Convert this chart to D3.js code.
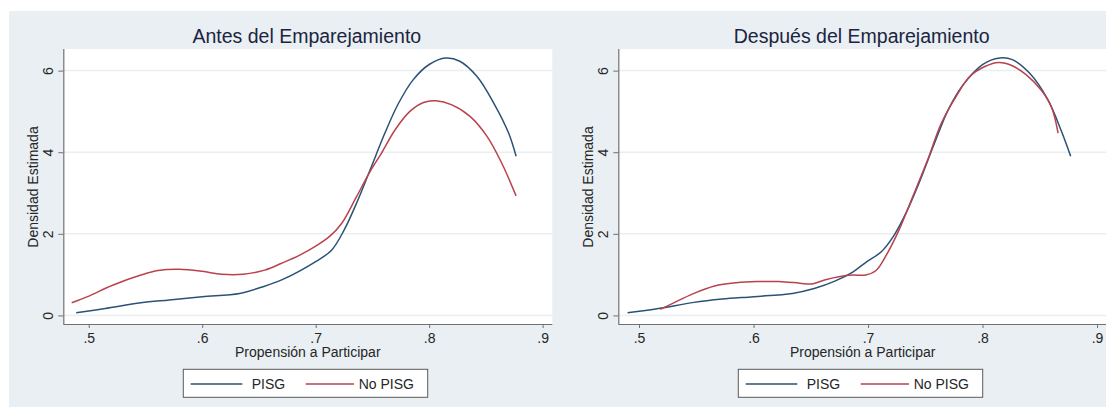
<!DOCTYPE html>
<html>
<head>
<meta charset="utf-8">
<script src="https://cdn.jsdelivr.net/npm/d3@7"></script>
<style>
  html, body { margin: 0; padding: 0; background: #ffffff; }
  svg { display: block; }
  text { font-family: "Liberation Sans", Arial, Helvetica, sans-serif; }
</style>
</head>
<body>
<svg id="chart" width="1106" height="407"></svg>
<script>
// ---- Data ----
const panelTitles = ["Antes del Emparejamiento", "Después del Emparejamiento"];
const xTicks = [0.5, 0.6, 0.7, 0.8, 0.9];
const xTickLabels = [".5", ".6", ".7", ".8", ".9"];
const yTicks = [0, 2, 4, 6];
const seriesNames = ["PISG", "No PISG"];
const xAxisTitle = "Propensión a Participar";
const yAxisTitle = "Densidad Estimada";

// Antes del Emparejamiento
const antesPISG = [
  [0.489, 0.065], [0.5146, 0.17], [0.546, 0.31], [0.571, 0.38], [0.600, 0.46],
  [0.633, 0.54], [0.652, 0.69], [0.670, 0.87], [0.700, 1.32], [0.714, 1.60],
  [0.725, 2.09], [0.736, 2.75], [0.748, 3.57], [0.761, 4.47], [0.773, 5.20],
  [0.786, 5.78], [0.800, 6.15], [0.8146, 6.31], [0.827, 6.23], [0.842, 5.86],
  [0.857, 5.20], [0.870, 4.47], [0.8766, 3.90]
];
const antesNoPISG = [
  [0.485, 0.31], [0.499, 0.46], [0.521, 0.74], [0.546, 0.99], [0.561, 1.10],
  [0.580, 1.13], [0.600, 1.08], [0.617, 1.01], [0.636, 1.01], [0.655, 1.11],
  [0.670, 1.28], [0.686, 1.48], [0.700, 1.70], [0.712, 1.93], [0.723, 2.26],
  [0.736, 2.91], [0.748, 3.53], [0.758, 3.98], [0.770, 4.55], [0.783, 5.00],
  [0.795, 5.22], [0.806, 5.26], [0.820, 5.16], [0.836, 4.88], [0.851, 4.39],
  [0.864, 3.73], [0.8766, 2.93]
];
// Después del Emparejamiento
const despuesPISG = [
  [0.490, 0.065], [0.517, 0.17], [0.548, 0.32], [0.5726, 0.40], [0.600, 0.46],
  [0.634, 0.54], [0.653, 0.66], [0.671, 0.84], [0.687, 1.07], [0.699, 1.32],
  [0.7116, 1.56], [0.722, 1.93], [0.733, 2.50], [0.7456, 3.32], [0.758, 4.22],
  [0.770, 5.04], [0.783, 5.65], [0.800, 6.15], [0.815, 6.31], [0.826, 6.27],
  [0.841, 5.94], [0.857, 5.29], [0.869, 4.51], [0.877, 3.90]
];
const despuesNoPISG = [
  [0.5185, 0.15], [0.529, 0.29], [0.548, 0.54], [0.566, 0.72], [0.585, 0.80],
  [0.6035, 0.83], [0.622, 0.83], [0.6405, 0.79], [0.651, 0.77], [0.662, 0.87],
  [0.6745, 0.95], [0.687, 0.99], [0.698, 0.99], [0.707, 1.10], [0.716, 1.48],
  [0.727, 2.09], [0.739, 2.91], [0.752, 3.81], [0.764, 4.71], [0.777, 5.37],
  [0.789, 5.86], [0.802, 6.10], [0.814, 6.20], [0.826, 6.12], [0.838, 5.90],
  [0.851, 5.53], [0.860, 5.12], [0.866, 4.47]
];

const panelSeries = [[antesPISG, antesNoPISG], [despuesPISG, despuesNoPISG]];
const xDomains = [[0.4776, 0.9085], [0.4819, 0.9087]];
const yDomain = [-0.21, 6.53];

// ---- Layout / style ----
const colors = ["#2b5276", "#b9424e"];
const bg = "#e9eff2";
const panels = [
  { left: 63.3, right: 552.3, offset: 0 },
  { left: 618.3, right: 1107, offset: 555 }
];
const plotTop = 49, plotBottom = 324;

const svg = d3.select("#chart");
svg.append("rect").attr("x", 9).attr("y", 11).attr("width", 1106 - 9).attr("height", 407 - 11).attr("fill", bg);

panels.forEach((p, i) => {
  const g = svg.append("g");
  const x = d3.scaleLinear().domain(xDomains[i]).range([p.left, p.right]);
  const y = d3.scaleLinear().domain(yDomain).range([plotBottom, plotTop]);

  // plot region
  g.append("rect").attr("x", p.left).attr("y", plotTop)
    .attr("width", p.right - p.left).attr("height", plotBottom - plotTop)
    .attr("fill", "#ffffff");

  // grid lines
  g.selectAll(".grid").data(yTicks).enter().append("line")
    .attr("x1", p.left).attr("x2", p.right)
    .attr("y1", d => y(d)).attr("y2", d => y(d))
    .attr("stroke", "#e9eef2").attr("stroke-width", 1.5);

  // curves
  const line = d3.line().x(d => x(d[0])).y(d => y(d[1])).curve(d3.curveCatmullRom.alpha(0.5));
  panelSeries[i].forEach((s, k) => {
    g.append("path").datum(s).attr("d", line)
      .attr("fill", "none").attr("stroke", colors[k]).attr("stroke-width", 1.5);
  });

  // x axis
  const xAxis = d3.axisBottom(x).tickValues(xTicks)
    .tickFormat((d, j) => xTickLabels[j]).tickSize(4).tickPadding(5);
  const xa = g.append("g").attr("transform", `translate(0,${plotBottom})`).call(xAxis);
  xa.select(".domain").attr("stroke", "#707070").attr("stroke-width", 1.2)
    .attr("d", `M${p.left},0.5H${p.right}`);
  xa.selectAll(".tick line").attr("stroke", "#707070");
  xa.selectAll(".tick text").attr("font-size", 14).attr("fill", "#262626")
    .attr("font-family", '"Liberation Sans", Arial, sans-serif');

  // y axis
  const yAxis = d3.axisLeft(y).tickValues(yTicks).tickSize(5).tickFormat(d3.format("d"));
  const ya = g.append("g").attr("transform", `translate(${p.left},0)`).call(yAxis);
  ya.select(".domain").attr("stroke", "#707070").attr("stroke-width", 1.2)
    .attr("d", `M0.5,${plotTop}V${plotBottom}`);
  ya.selectAll(".tick line").attr("stroke", "#707070");
  ya.selectAll(".tick text")
    .attr("font-size", 14).attr("fill", "#262626")
    .attr("font-family", '"Liberation Sans", Arial, sans-serif')
    .attr("x", null).attr("dy", null)
    .attr("text-anchor", "middle")
    .attr("transform", "translate(-10.6,0) rotate(-90)");

  // titles
  const cx = (p.left + p.right) / 2;
  g.append("text").attr("x", cx - 1).attr("y", 43).attr("text-anchor", "middle")
    .attr("font-size", 19.5).attr("fill", "#1b2540").text(panelTitles[i]);
  g.append("text").attr("x", cx).attr("y", 357).attr("text-anchor", "middle")
    .attr("font-size", 14).attr("fill", "#262626").text(xAxisTitle);
  g.append("text").attr("transform", `translate(${38 + p.offset},187) rotate(-90)`)
    .attr("text-anchor", "middle").attr("font-size", 14).attr("fill", "#262626").text(yAxisTitle);

  // legend
  const lx = 183.3 + p.offset, ly = 369.3;
  g.append("rect").attr("x", lx).attr("y", ly).attr("width", 244.4).attr("height", 28)
    .attr("fill", "#ffffff").attr("stroke", "#5a5a5a").attr("stroke-width", 1);
  const items = [
    { x1: 7.4, x2: 59, tx: 68.4 },
    { x1: 122.4, x2: 170.7, tx: 175.4 }
  ];
  items.forEach((it, k) => {
    g.append("line").attr("x1", lx + it.x1).attr("x2", lx + it.x2)
      .attr("y1", ly + 14.7).attr("y2", ly + 14.7)
      .attr("stroke", colors[k]).attr("stroke-width", 1.5);
    g.append("text").attr("x", lx + it.tx).attr("y", ly + 19.8)
      .attr("font-size", 14).attr("fill", "#262626").text(seriesNames[k]);
  });
});
</script>
</body>
</html>
